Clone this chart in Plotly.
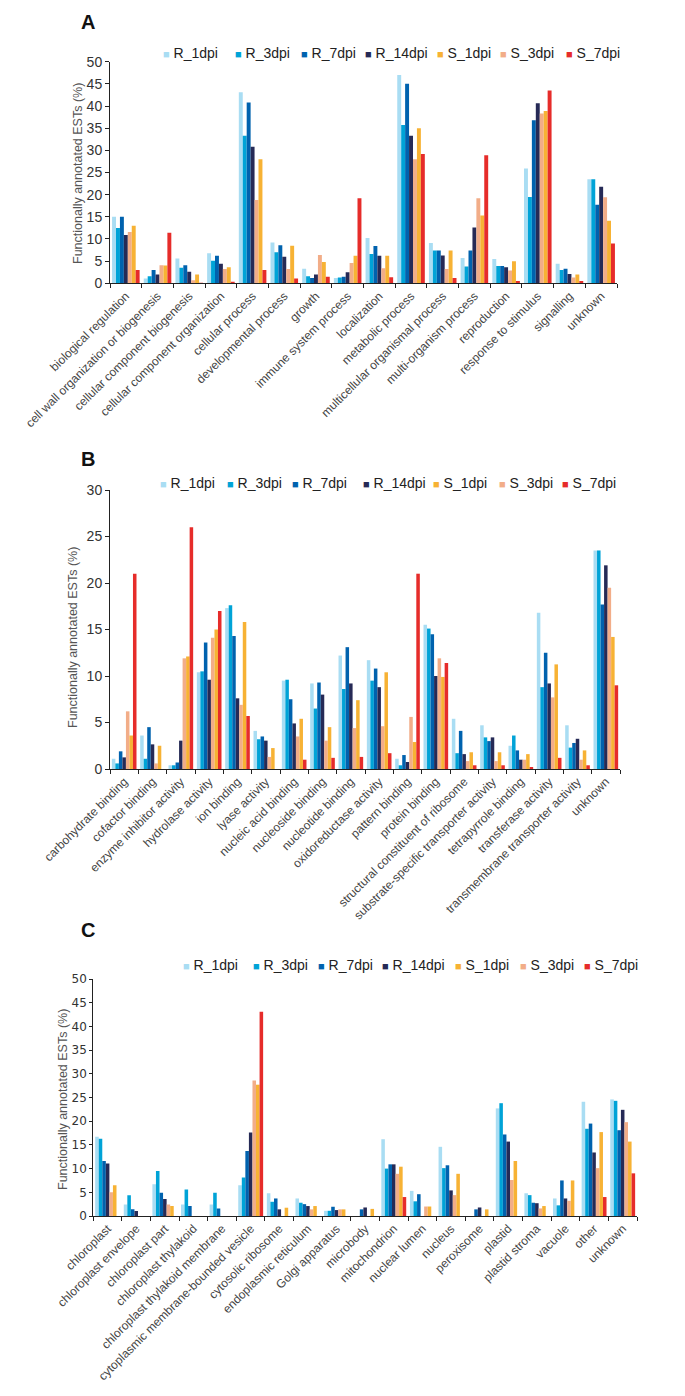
import plotly.graph_objects as go

W, H = 685, 1396
OFF = 8  # the page body adds an 8px margin around the figure

# ---- panel A: biological process ----
cats_a = ["biological regulation", "cell wall organization or biogenesis", "cellular component biogenesis",
          "cellular component organization", "cellular process", "developmental process", "growth",
          "immune system process", "localization", "metabolic process", "multicellular organismal process",
          "multi-organism process", "reproduction", "response to stimulus", "signalling", "unknown"]
a_r1 = [15.0, 1.1, 5.6, 6.8, 43.1, 9.2, 3.3, 1.2, 10.2, 47.0, 9.1, 5.7, 5.5, 25.9, 4.4, 23.5]
a_r3 = [12.5, 1.6, 3.5, 5.1, 33.3, 7.0, 1.6, 1.3, 6.6, 35.7, 7.4, 3.8, 3.9, 19.5, 3.0, 23.5]
a_r7 = [15.0, 3.0, 4.1, 6.2, 40.8, 8.6, 1.2, 1.5, 8.4, 45.0, 7.4, 7.4, 3.9, 36.8, 3.3, 17.7]
a_r14 = [10.9, 2.0, 2.6, 4.4, 30.8, 6.0, 2.0, 2.5, 6.2, 33.3, 6.3, 12.6, 3.6, 40.6, 2.1, 21.8]
a_s1 = [13.0, 4.0, 2.0, 3.6, 28.0, 8.5, 4.8, 6.2, 6.2, 35.0, 7.4, 15.3, 5.0, 38.9, 2.0, 14.1]
a_s3 = [11.6, 4.1, 0.7, 3.2, 18.8, 3.2, 6.4, 4.6, 3.4, 28.0, 3.2, 19.2, 2.9, 38.3, 1.3, 19.4]
a_s7 = [3.0, 11.4, 0.1, 0.2, 3.0, 1.1, 1.5, 19.2, 1.35, 29.2, 1.2, 28.9, 0.5, 43.5, 0.5, 9.0]

# ---- panel B: molecular function ----
cats_b = ["carbohydrate binding", "cofactor binding", "enzyme inhibitor activity", "hydrolase activity",
          "ion binding", "lyase activity", "nucleic acid binding", "nucleoside binding", "nucleotide binding",
          "oxidoreductase activity", "pattern binding", "protein binding", "structural constituent of ribosome",
          "substrate-specific transporter activity", "tetrapyrrole binding", "transferase activity",
          "transmembrane transporter activity", "unknown"]
b_r1 = [1.1, 3.6, 0.4, 10.4, 17.3, 4.1, 9.5, 9.2, 12.2, 11.7, 1.1, 15.5, 5.4, 4.7, 2.5, 16.8, 4.7, 23.5]
b_r3 = [0.6, 1.1, 0.4, 10.5, 17.6, 3.2, 9.6, 6.5, 8.6, 9.5, 0.4, 15.1, 1.7, 3.4, 3.6, 8.8, 2.3, 23.5]
b_r7 = [1.9, 4.5, 0.7, 13.6, 14.3, 3.5, 7.5, 9.3, 13.1, 10.8, 1.5, 14.5, 4.1, 3.0, 2.0, 12.5, 2.8, 17.7]
b_r14 = [1.25, 2.65, 3.05, 9.6, 7.6, 3.05, 4.9, 8.0, 9.2, 8.8, 0.75, 10.0, 1.6, 3.4, 1.0, 9.2, 3.25, 21.9]
b_s1 = [3.6, 2.5, 12.1, 15.0, 15.8, 2.25, 5.4, 4.5, 7.4, 10.4, 2.9, 9.9, 1.8, 1.8, 1.6, 11.25, 2.0, 14.2]
b_s3 = [6.2, 0.6, 11.9, 14.1, 6.9, 1.3, 3.5, 3.05, 4.4, 4.6, 5.6, 11.9, 0.85, 0.85, 1.0, 7.7, 1.0, 19.5]
b_s7 = [21.0, 0, 26.0, 17.0, 5.7, 0, 1.0, 1.2, 1.3, 1.7, 21.0, 11.4, 0.4, 0.4, 0.15, 1.2, 0.4, 9.0]

# ---- panel C: cellular component ----
cats_c = ["chloroplast", "chloroplast envelope", "chloroplast part", "chloroplast thylakoid",
          "chloroplast thylakoid membrane", "cytoplasmic membrane-bounded vesicle", "cytosolic ribosome",
          "endoplasmic reticulum", "Golgi apparatus", "microbody", "mitochondrion", "nuclear lumen",
          "nucleus", "peroxisome", "plastid", "plastid stroma", "vacuole", "other", "unknown"]
c_r1 = [16.7, 2.45, 6.7, 2.45, 2.45, 6.5, 4.8, 3.7, 1.1, 0, 16.2, 5.3, 14.6, 0, 22.7, 4.8, 3.7, 24.1, 24.6]
c_r3 = [16.3, 4.4, 9.5, 5.6, 4.9, 8.1, 3.0, 2.8, 1.1, 0, 10.0, 3.1, 10.1, 0, 23.8, 4.4, 2.25, 18.4, 24.3]
c_r7 = [11.6, 1.4, 4.9, 2.1, 1.6, 13.7, 3.7, 2.5, 1.95, 1.4, 10.9, 4.6, 10.7, 1.4, 17.2, 2.8, 7.5, 19.5, 18.1]
c_r14 = [11.1, 1.05, 3.6, 0, 0, 17.6, 1.4, 2.1, 1.25, 1.8, 10.9, 0, 5.4, 1.8, 15.7, 2.7, 3.7, 13.4, 22.4]
c_s1 = [6.5, 0, 2.1, 0, 0, 27.7, 1.75, 2.1, 1.4, 1.5, 10.4, 2.0, 8.9, 1.4, 11.6, 2.1, 7.5, 17.7, 15.7]
c_s3 = [5.0, 0, 2.45, 0, 0, 28.6, 0, 1.4, 1.4, 0, 8.9, 2.0, 4.4, 0, 7.6, 1.6, 3.2, 10.1, 19.8]
c_s7 = [0, 0, 0, 0, 0, 43.1, 0, 0, 0, 0, 4.0, 0, 0, 0, 0, 0, 0, 4.0, 9.0]

series_names = ["R_1dpi", "R_3dpi", "R_7dpi", "R_14dpi", "S_1dpi", "S_3dpi", "S_7dpi"]
colors = {"R_1dpi": "#A9DDF3", "R_3dpi": "#00A3D7", "R_7dpi": "#0062AE", "R_14dpi": "#262A56",
          "S_1dpi": "#F7B234", "S_3dpi": "#F2AD88", "S_7dpi": "#E62C2A"}
# bars inside each group are drawn with S_3dpi before S_1dpi, as in the original
bar_order = ["R_1dpi", "R_3dpi", "R_7dpi", "R_14dpi", "S_3dpi", "S_1dpi", "S_7dpi"]

panels = [
    (cats_a, dict(zip(series_names, [a_r1, a_r3, a_r7, a_r14, a_s1, a_s3, a_s7])), "x", "y"),
    (cats_b, dict(zip(series_names, [b_r1, b_r3, b_r7, b_r14, b_s1, b_s3, b_s7])), "x2", "y2"),
    (cats_c, dict(zip(series_names, [c_r1, c_r3, c_r7, c_r14, c_s1, c_s3, c_s7])), "x3", "y3"),
]


def fx(px):
    return (px - OFF) / W


def fy(px):
    return 1 - (px - OFF) / H


fig = go.Figure()
for cats, vals, xa, ya in panels:
    for name in bar_order:
        fig.add_trace(go.Bar(x=cats, y=vals[name], name=name, marker_color=colors[name],
                             marker_line_width=0, xaxis=xa, yaxis=ya, showlegend=False))

FONT = "Liberation Sans, Arial, Helvetica, sans-serif"

xcommon = dict(type="category", dtick=1, tickson="boundaries", ticks="outside", ticklen=4,
               tickcolor="#222", showline=True, linecolor="#222", linewidth=1, tickangle=-45,
               tickfont=dict(family=FONT, size=12, color="#444"), showgrid=False, automargin=False)
ycommon = dict(ticks="outside", ticklen=4, tickcolor="#222", showline=True, linecolor="#222",
               linewidth=1, showgrid=False, zeroline=False, dtick=5, automargin=False,
               tickfont=dict(family=FONT, size=14, color="#333"))

fig.update_layout(
    width=W, height=H,
    margin=dict(l=0, r=0, t=0, b=0, pad=0, autoexpand=False),
    paper_bgcolor="white", plot_bgcolor="white",
    barmode="group", bargap=0.13, bargroupgap=0,
    font=dict(family=FONT, color="#444"),
    xaxis=dict(xcommon, domain=[fx(110), fx(617)], anchor="y"),
    yaxis=dict(ycommon, domain=[fy(283.3), fy(61.7)], range=[0, 50], anchor="x"),
    xaxis2=dict(xcommon, domain=[fx(110), fx(620)], anchor="y2"),
    yaxis2=dict(ycommon, domain=[fy(769), fy(490)], range=[0, 30], anchor="x2"),
    xaxis3=dict(xcommon, domain=[fx(93.3), fx(637)], anchor="y3"),
    yaxis3=dict(ycommon, domain=[fy(1216), fy(979)], range=[0, 50], anchor="x3",
                tickfont=dict(family="DejaVu Sans, Verdana, sans-serif", size=12, color="#333"), ticklen=3),
)

annotations = []
# panel letters (top edge of each text box)
for letter, yy in [("A", 9), ("B", 446), ("C", 917)]:
    annotations.append(dict(text="<b>%s</b>" % letter, x=fx(88), y=fy(yy), xref="paper", yref="paper",
                            xanchor="center", yanchor="top", showarrow=False,
                            font=dict(family=FONT, size=20, color="#111")))
# y axis titles
for xx, yy in [(78, 174), (73, 638), (63, 1100)]:
    annotations.append(dict(text="Functionally annotated ESTs (%)", x=fx(xx), y=fy(yy), xref="paper",
                            yref="paper", xanchor="center", yanchor="middle", showarrow=False,
                            textangle=-90, font=dict(family=FONT, size=12.5, color="#555")))
# legends (one row above each panel)
legend_rows = [
    (53, [161, 233, 299, 363, 435, 498, 564]),
    (483, [158, 225, 290, 361, 431, 497, 560]),
    (965, [181, 251, 316, 380, 453, 518, 582]),
]
for yy, xs in legend_rows:
    for name, xx in zip(series_names, xs):
        annotations.append(dict(
            text="<span style='color:%s;font-size:11px'>■</span> %s" % (colors[name], name),
            x=fx(xx), y=fy(yy), xref="paper", yref="paper", xanchor="left", yanchor="middle",
            showarrow=False, font=dict(family=FONT + ", DejaVu Sans", size=14, color="#222")))

fig.update_layout(annotations=annotations)

fig.write_html("out.html")
